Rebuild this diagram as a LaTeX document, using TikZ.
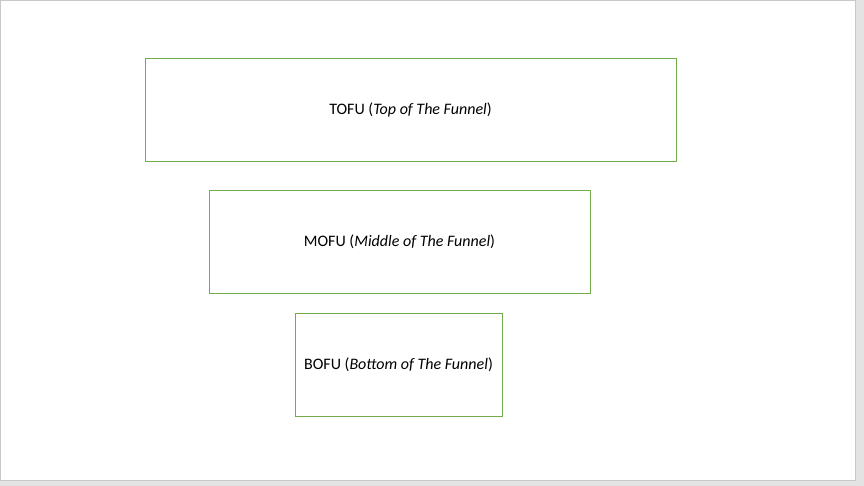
\documentclass[tikz,border=0pt]{standalone}
\usepackage{fontspec}
\setmainfont{Carlito}
\usepackage{tikz}
\definecolor{funnelgreen}{HTML}{70AD47}
\definecolor{framegray}{HTML}{C8C8C8}
\definecolor{outsidegray}{HTML}{E3E3E3}

\begin{document}
\begin{tikzpicture}[x=1pt,y=-1pt,
	stage/.style={draw=funnelgreen, line width=0.9pt, minimum height=103pt, inner sep=0pt, font=\fontsize{16}{19}\selectfont}]
			\fill[outsidegray] (0,0) rectangle (864,486);
			\filldraw[fill=white, draw=framegray, line width=1pt] (0.5,0.5) rectangle (855.5,480.5);
			\useasboundingbox (0,0) rectangle (864,486);
			\node[stage, minimum width=531pt] (tofu) at (410.5,109.5) {TOFU (\textit{Top of The Funnel})};
			\node[stage, minimum width=381pt] (mofu) at (399.5,241.5) {MOFU (\textit{Middle of The Funnel})};
			\node[stage, minimum width=207pt] (bofu) at (398.5,364.5) {BOFU (\textit{Bottom of The Funnel})};
		\end{tikzpicture}
\end{document}
